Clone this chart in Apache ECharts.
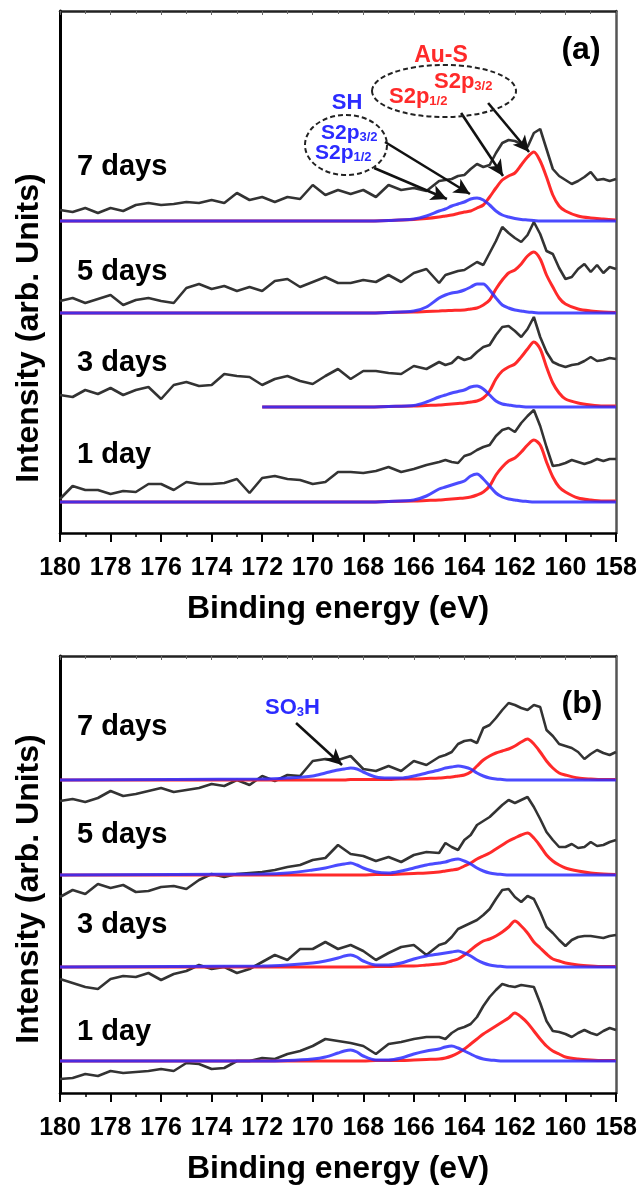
<!DOCTYPE html>
<html>
<head>
<meta charset="utf-8">
<title>S2p XPS spectra</title>
<script src="https://cdn.jsdelivr.net/npm/echarts@6/dist/echarts.min.js"></script>
<style>
  html, body { margin: 0; padding: 0; background: #fff; }
  #chart { width: 643px; height: 1189px; }
</style>
</head>
<body>
<div id="chart"></div>
<script>
// binding energy (eV) of the measured points, shared by all spectra
const energies = [180, 179.5, 179, 178.5, 178, 177.5, 177, 176.5, 176, 175.5, 175, 174.5, 174, 173.5, 173, 172.5,
  172, 171.5, 171, 170.5, 170, 169.5, 169, 168.5, 168, 167.5, 167, 166.5, 166, 165.5, 165,
  164.75, 164.5, 164.25, 164, 163.75, 163.5, 163.25, 163, 162.75, 162.5, 162.25, 162, 161.75, 161.5, 161.25,
  161, 160.75, 160.5, 160.25, 160, 159.75, 159.5, 159.25, 159, 158.75, 158.5, 158.25, 158];

// energies of the fitted components
const fitEnergiesA = [180, 172, 168, 167, 166, 165.5, 165, 164.75, 164.5, 164.25, 164, 163.75, 163.5, 163.25, 163,
  162.75, 162.5, 162.25, 162, 161.75, 161.5, 161.25, 161, 160.75, 160.5, 160.25, 160, 159.5, 159, 158.5, 158];
const fitEnergiesB = [180, 172, 171, 170, 169.5, 169, 168.75, 168.5, 168.25, 168, 167.5, 167, 166.5, 166, 165.5, 165,
  164.75, 164.5, 164.25, 164, 163.75, 163.5, 163.25, 163, 162.75, 162.5, 162.25, 162, 161.75, 161.5, 161.25, 161,
  160.75, 160.5, 160.25, 160, 159.5, 159, 158.5, 158];

const dayLabels = ['1 day', '3 days', '5 days', '7 days'];
const xTicks = [180, 178, 176, 174, 172, 170, 168, 166, 164, 162, 160, 158];

// vertical stacking offsets (arb. units)
const offsetsA = [0, 95, 189, 281];
const offsetsB = [0, 94, 186, 281];

// panel (a): measured spectra
const rawA1 = [3, 16, 12, 12, 8, 11, 10, 18, 18, 12, 20, 18, 18, 19, 23, 9, 24, 26, 23, 22, 18, 20, 30, 30, 29, 31, 35, 30, 33, 37, 40,
  42, 40, 39, 46, 48, 52, 55, 57, 66, 72, 74, 70, 79, 86, 92, 76, 55, 36, 37, 39, 42, 40, 38, 40, 43, 41, 43, 43];
const rawA3 = [12, 10, 17, 13, 19, 12, 17, 20, 8, 22, 25, 21, 22, 33, 31, 30, 22, 28, 31, 26, 23, 31, 38, 28, 36, 36, 34, 33, 41, 38, 45,
  42, 44, 50, 47, 49, 55, 60, 62, 72, 80, 81, 76, 70, 78, 90, 70, 55, 45, 42, 40, 42, 43, 46, 50, 46, 47, 49, 48];
const rawA5 = [12, 15, 10, 14, 18, 8, 13, 15, 12, 10, 25, 29, 24, 27, 22, 26, 22, 32, 34, 26, 31, 36, 30, 30, 33, 31, 38, 31, 40, 44, 30,
  38, 40, 42, 43, 47, 51, 48, 60, 72, 86, 80, 75, 71, 78, 91, 79, 62, 59, 45, 34, 36, 44, 49, 41, 48, 40, 46, 44];
const rawA7 = [11, 9, 13, 8, 13, 10, 16, 18, 16, 17, 19, 18, 21, 18, 28, 21, 24, 19, 24, 22, 36, 26, 31, 27, 31, 24, 36, 31, 33, 30, 40,
  41, 42, 45, 46, 52, 57, 54, 56, 68, 78, 81, 80, 77, 74, 88, 92, 72, 52, 45, 41, 37, 40, 44, 49, 41, 42, 40, 42];

// panel (a): Au-S component (red)
const auA1 = [0, 0, 0, 0.5, 1, 1.5, 2, 2.5, 3, 3.5, 4, 5, 7, 10, 16, 27, 35, 41, 44, 50, 57, 62, 57, 40, 25, 15, 10, 4, 2, 1, 1];
const auA3 = [null, 0, 0, 0.5, 1, 1.5, 2, 2.5, 3, 3.5, 4, 5, 6, 9, 16, 28, 36, 40, 43, 50, 58, 65, 58, 40, 24, 14, 8, 4, 2, 1, 1];
const auA5 = [0, 0, 0, 0.5, 1, 1.5, 2, 2.3, 2.5, 2.8, 3, 4, 5, 8, 13, 24, 33, 40, 43, 49, 57, 61, 54, 38, 26, 15, 9, 4, 2, 1, 0.5];
const auA7 = [0, 0, 0, 0.5, 1.5, 2.5, 4, 5, 6, 7.5, 9, 10, 13, 16, 24, 33, 41, 45, 48, 56, 64, 69, 60, 44, 26, 15, 10, 5, 3, 2, 1];

// panel (a): SH component (blue)
const shA1 = [0, 0, 0, 0.5, 2, 6, 13, 15, 17, 19, 21, 26, 28, 23, 16, 9, 5, 3, 2, 1, 0.5, 0, 0, 0, 0, 0, 0, 0, 0, 0, 0];
const shA3 = [null, 0, 0, 0.5, 1.5, 5, 10, 12, 14, 15.5, 17, 20, 21, 18, 12, 6, 3, 2, 1, 0.5, 0, 0, 0, 0, 0, 0, 0, 0, 0, 0, 0];
const shA5 = [0, 0, 0, 0.5, 2, 6, 15, 18, 20, 21, 23, 26, 29, 29, 23, 15, 8, 5, 3, 2, 1, 0.5, 0, 0, 0, 0, 0, 0, 0, 0, 0];
const shA7 = [0, 0, 0, 0.5, 2, 5, 10, 12, 15, 17, 19, 22, 23, 21, 16, 10, 6, 4, 2.5, 1.5, 1, 0.5, 0, 0, 0, 0, 0, 0, 0, 0, 0];

// panel (b): measured spectra
const rawB1 = [-18, -17, -13, -15, -10, -12, -11, -10, -8, -10, -2, -3, -8, -7, 0, 0, 3, 2, 7, 10, 15, 22, 20, 18, 15, 7, 17, 19, 22, 24, 24,
  22, 28, 32, 34, 37, 44, 55, 64, 71, 77, 75, 74, 76, 75, 74, 58, 40, 30, 29, 27, 24, 28, 31, 28, 26, 30, 33, 31];
const rawB3 = [-12, -16, -20, -22, -12, -9, -10, -6, -13, -7, -4, 2, -2, 0, -6, -2, 5, 12, 7, 18, 18, 25, 18, 22, 16, 7, 14, 20, 22, 12, 22,
  24, 30, 38, 41, 44, 47, 52, 58, 68, 77, 78, 70, 65, 71, 68, 55, 40, 34, 27, 21, 27, 30, 31, 31, 30, 29, 31, 32];
const rawB5 = [-22, -15, -19, -9, -13, -10, -17, -16, -12, -11, -14, -5, 1, -2, 1, 2, 3, 5, 8, 10, 15, 17, 30, 21, 19, 14, 18, 13, 20, 23, 22,
  32, 28, 25, 35, 40, 50, 54, 58, 64, 70, 75, 72, 75, 78, 68, 56, 43, 35, 28, 28, 31, 27, 28, 33, 29, 30, 33, 35];
const rawB7 = [-21, -19, -22, -18, -11, -16, -14, -11, -8, -12, -10, -8, -4, -6, 0, -5, 4, -1, 5, 4, 19, 21, 20, 24, 11, 9, 14, 9, 19, 15, 23,
  25, 28, 36, 39, 40, 37, 52, 55, 62, 70, 77, 75, 72, 70, 75, 73, 50, 44, 36, 34, 32, 28, 21, 26, 30, 27, 25, 28];

// panel (b): Au-S component (red)
const auB1 = [0, 0, 0, 0, 0, 0, 0, 0, 0, 0, 0.5, 0.5, 0.5, 1, 1.5, 2, 3, 5, 8, 12, 17, 22, 27, 31, 35, 39, 43, 48, 44, 38, 30, 22, 15, 10, 7, 4, 2, 1, 0.5, 0.5];
const auB3 = [0, 0, 0, 0, 0, 0, 0, 0, 0, 0, 0.5, 0.5, 1, 1, 2, 3, 4, 6, 8, 12, 17, 22, 26, 28, 31, 35, 40, 46, 41, 34, 25, 19, 13, 8, 6, 4, 2, 1, 0.5, 0.5];
const auB5 = [0, 0, 0, 0, 0, 0, 0, 0, 0, 0, 0.5, 0.5, 1, 1.5, 2, 3, 4, 5, 6, 9, 12, 16, 19, 22, 26, 30, 34, 37, 40, 42, 37, 29, 20, 14, 10, 7, 4, 2, 1, 0.5];
const auB7 = [0, 0, 0, 0, 0, 0, 0, 0.5, 0.5, 0.5, 0.5, 0.5, 1, 1, 1.5, 2, 2.5, 3, 4, 5, 8, 14, 20, 24, 27, 29, 31, 34, 38, 41, 36, 28, 19, 12, 7, 5, 2, 1, 0.5, 0.5];

// panel (b): SO3H + SH components (blue)
const soB1 = [0, 0, 0.5, 2, 4, 8, 10, 11, 9, 5, 1, 1, 3, 7, 10, 12, 14, 15, 13, 10, 7, 4, 2, 1, 0.5, 0, 0, 0, 0, 0, 0, 0, 0, 0, 0, 0, 0, 0, 0, 0];
const soB3 = [0, 1, 2, 4, 6, 9, 11, 12, 10, 6, 2, 2, 4, 8, 11, 13, 14, 15, 16, 14, 11, 7, 4, 2, 1, 0.5, 0, 0, 0, 0, 0, 0, 0, 0, 0, 0, 0, 0, 0, 0];
const soB5 = [0, 1, 2, 5, 7, 10, 11, 12, 10, 7, 3, 2, 4, 7, 10, 12, 13, 15, 16, 14, 11, 7, 4, 2, 1, 0.5, 0, 0, 0, 0, 0, 0, 0, 0, 0, 0, 0, 0, 0, 0];
const soB7 = [0, 1, 2, 4, 7, 10, 11, 12, 11, 8, 3, 2, 2, 4, 7, 10, 12, 13, 14, 13, 11, 7, 4, 2, 1, 0.5, 0, 0, 0, 0, 0, 0, 0, 0, 0, 0, 0, 0, 0, 0];

// annotation arrows [fromE, fromI, toE, toI]
const arrowsA = [[167.14, 360, 163.78, 308], [167.57, 334, 164.69, 303], [164.13, 389, 162.47, 326], [163.06, 399, 161.44, 350]];
const arrowsB = [[170.66, 338, 168.84, 296]];

const FONT = "'Liberation Sans', Arial, sans-serif";
const BLACK = '#333';
const RED = '#ff2a2a';
const BLUE = '#2b2bff';

const panels = [
  { x: 0, y: 0, offsets: offsetsA, fitE: fitEnergiesA, raw: [rawA1, rawA3, rawA5, rawA7],
    red: [auA1, auA3, auA5, auA7], blue: [shA1, shA3, shA5, shA7], arrows: arrowsA },
  { x: 2, y: 2, offsets: offsetsB, fitE: fitEnergiesB, raw: [rawB1, rawB3, rawB5, rawB7],
    red: [auB1, auB3, auB5, auB7], blue: [soB1, soB3, soB5, soB7], arrows: arrowsB },
];

function pairs(xs, ys, offset) {
  return xs.map((x, i) => [x, ys[i] == null ? null : ys[i] + offset]).filter(p => p[1] != null);
}

const series = [];
panels.forEach(p => {
  dayLabels.forEach((day, i) => {
    const black = {
      name: day, type: 'line', xAxisIndex: p.x, yAxisIndex: p.y,
      data: pairs(energies, p.raw[i], p.offsets[i]),
      showSymbol: false, lineStyle: { color: BLACK, width: 2.6 }, z: 2,
    };
    if (i === 3) {
      black.markLine = {
        silent: true, animation: false,
        symbol: ['none', 'arrow'], symbolSize: [12, 16],
        label: { show: false },
        lineStyle: { color: '#111', width: 2.6, type: 'solid' },
        data: p.arrows.map(a => [{ coord: [a[0], a[1]] }, { coord: [a[2], a[3]] }]),
      };
    }
    series.push(black);
    series.push({
      type: 'line', xAxisIndex: p.x, yAxisIndex: p.y,
      data: pairs(p.fitE, p.red[i], p.offsets[i]), smooth: 0.3,
      showSymbol: false, lineStyle: { color: RED, width: 3 }, z: 3,
    });
    series.push({
      type: 'line', xAxisIndex: p.x, yAxisIndex: p.y,
      data: pairs(p.fitE, p.blue[i], p.offsets[i]), smooth: 0.3,
      showSymbol: false, lineStyle: { color: BLUE, width: 3, opacity: 0.85 }, z: 4,
    });
  });
});

function bottomAxis(grid) {
  return {
    gridIndex: grid, type: 'value', min: 158, max: 180, interval: 2, inverse: true, position: 'bottom',
    axisLine: { onZero: false, lineStyle: { color: '#000', width: 2.5 } },
    axisTick: { length: 9, lineStyle: { color: '#000', width: 2 } },
    minorTick: { show: true, splitNumber: 2, length: 4, lineStyle: { color: '#000', width: 1.5 } },
    splitLine: { show: false },
    axisLabel: {
      margin: 23, color: '#000', fontSize: 25, fontWeight: 'bold', fontFamily: FONT,
      formatter: v => (xTicks.indexOf(v) >= 0 ? String(v) : ''),
    },
    name: 'Binding energy (eV)', nameLocation: 'middle', nameGap: 60,
    nameTextStyle: { color: '#000', fontSize: 32, fontWeight: 'bold', fontFamily: FONT },
  };
}
function topAxis(grid) {
  return {
    gridIndex: grid, type: 'value', min: 158, max: 180, interval: 2, inverse: true, position: 'top',
    axisLine: { onZero: false, lineStyle: { color: '#222', width: 2.5 } },
    axisTick: { inside: true, length: 4, lineStyle: { color: '#666', width: 1 } },
    minorTick: { show: true, splitNumber: 2, length: 3, lineStyle: { color: '#666', width: 1 } },
    axisLabel: { show: false }, splitLine: { show: false },
  };
}
function sideAxis(grid, pos, min, max) {
  return {
    gridIndex: grid, type: 'value', min: min, max: max, position: pos,
    axisLine: { show: true, onZero: false,
      lineStyle: { color: pos === 'left' ? '#000' : '#555', width: pos === 'left' ? 3 : 2.5 } },
    axisTick: { show: false }, axisLabel: { show: false }, splitLine: { show: false },
  };
}

function label(text, x, y, size, color, extra) {
  return Object.assign({
    type: 'text', x: x, y: y, silent: true, z: 10,
    style: { text: text, fill: color || '#000', font: 'bold ' + size + 'px ' + FONT,
      textAlign: 'left', textVerticalAlign: 'middle', align: 'left', verticalAlign: 'middle' },
  }, extra || {});
}
function subLabel(main, sub, x, y, size, color) {
  return {
    type: 'text', x: x, y: y, silent: true, z: 10,
    style: {
      text: '{m|' + main + '}{s|' + sub + '}', fill: color,
      textVerticalAlign: 'middle', verticalAlign: 'middle',
      rich: {
        m: { fontSize: size, fontWeight: 'bold', fontFamily: FONT, fill: color, color: color },
        s: { fontSize: Math.round(size * 0.6), fontWeight: 'bold', fontFamily: FONT, fill: color, color: color, verticalAlign: 'bottom' },
      },
    },
  };
}
function dashedEllipse(cx, cy, rx, ry) {
  return {
    type: 'ellipse', silent: true, z: 9,
    shape: { cx: cx, cy: cy, rx: rx, ry: ry },
    style: { fill: null, stroke: '#222', lineWidth: 2, lineDash: [5, 3] },
  };
}

const vTitle = { rotation: Math.PI / 2 };
const centred = (el) => { el.style.textAlign = 'center'; el.style.align = 'center'; return el; };

const graphics = [
  centred(label('Intensity (arb. Units)', 29, 328, 32, '#000', vTitle)),
  centred(label('Intensity (arb. Units)', 29, 889, 32, '#000', vTitle)),
  label('7 days', 77, 167, 29), label('5 days', 77, 272, 29), label('3 days', 77, 363, 29), label('1 day', 77, 455, 29),
  label('7 days', 77, 727, 29), label('5 days', 77, 835, 29), label('3 days', 77, 925, 29), label('1 day', 77, 1032, 29),
  centred(label('(a)', 581, 50, 32)),
  centred(label('(b)', 582, 704, 32)),
  dashedEllipse(444, 91, 72, 26),
  dashedEllipse(346, 145, 41, 30),
  centred(label('Au-S', 441, 56, 23, RED)),
  subLabel('S2p', '3/2', 434, 82, 22, RED),
  subLabel('S2p', '1/2', 389, 97, 22, RED),
  centred(label('SH', 347, 103, 22, BLUE)),
  subLabel('S2p', '3/2', 321, 133, 21, BLUE),
  subLabel('S2p', '1/2', 315, 153, 21, BLUE),
  {
    type: 'text', x: 265, y: 708, silent: true, z: 10,
    style: {
      text: '{m|SO}{s|3}{m|H}', fill: BLUE, textVerticalAlign: 'middle', verticalAlign: 'middle',
      rich: {
        m: { fontSize: 22, fontWeight: 'bold', fontFamily: FONT, fill: BLUE, color: BLUE },
        s: { fontSize: 13, fontWeight: 'bold', fontFamily: FONT, fill: BLUE, color: BLUE, verticalAlign: 'bottom' },
      },
    },
  },
];

const chart = echarts.init(document.getElementById('chart'), null, { renderer: 'canvas' });
chart.setOption({
  animation: false,
  backgroundColor: '#fff',
  grid: [
    { left: 60, top: 11, width: 556, height: 522 },
    { left: 60, top: 656, width: 556, height: 437 },
  ],
  xAxis: [bottomAxis(0), topAxis(0), bottomAxis(1), topAxis(1)],
  yAxis: [sideAxis(0, 'left', -31, 491), sideAxis(0, 'right', -31, 491), sideAxis(1, 'left', -32, 405), sideAxis(1, 'right', -32, 405)],
  series: series,
  graphic: graphics,
});
</script>
</body>
</html>
